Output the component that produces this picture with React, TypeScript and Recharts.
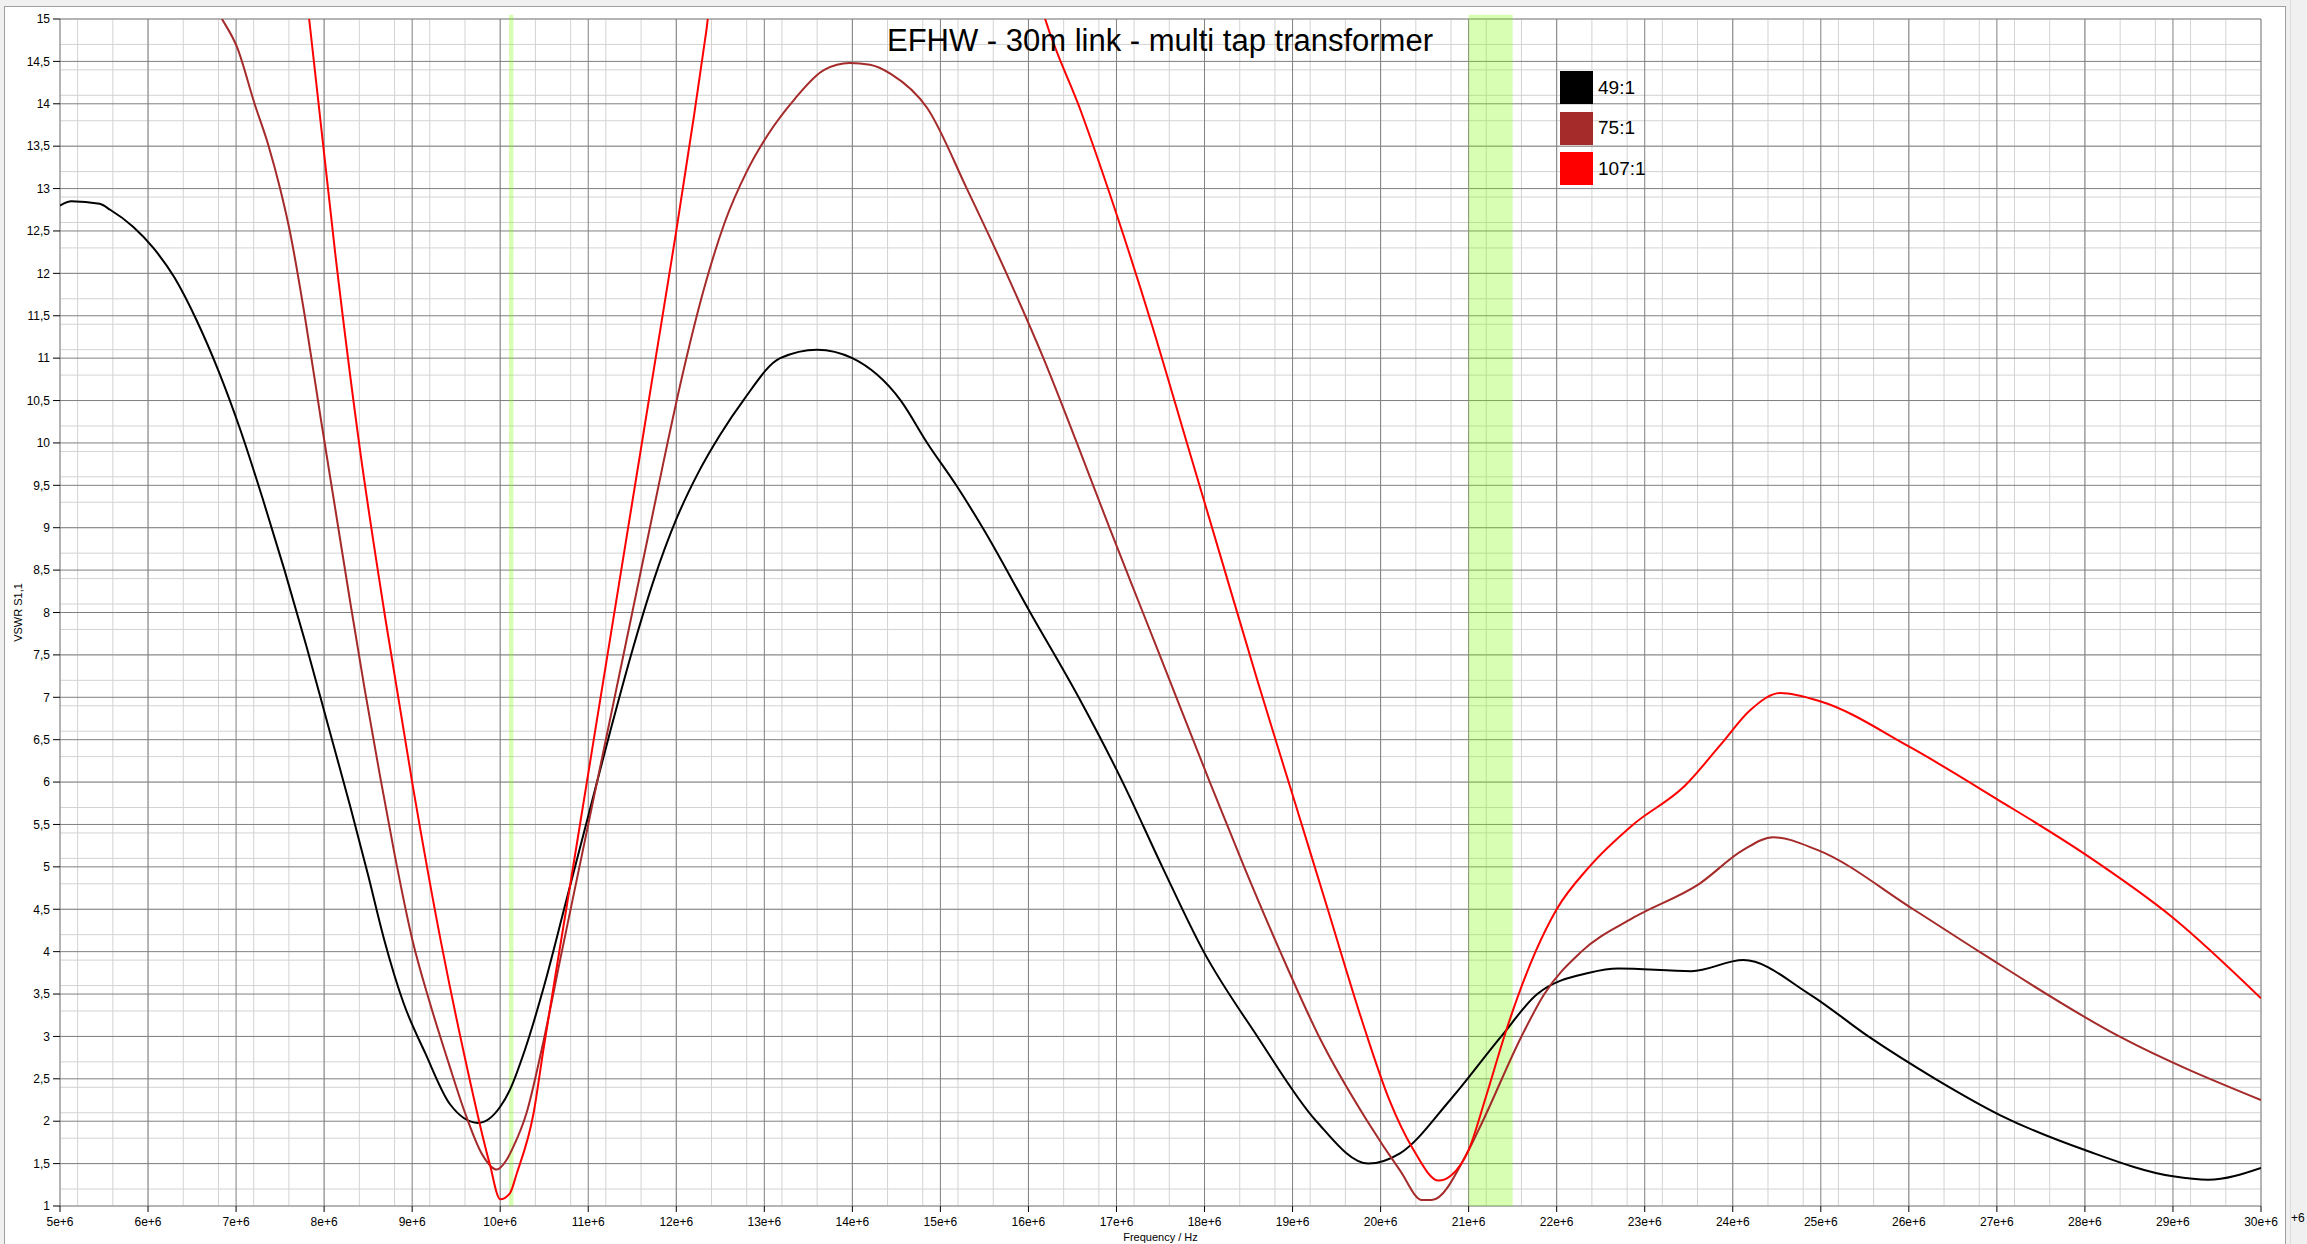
import { LineChart, Line, XAxis, YAxis, CartesianGrid, ReferenceArea } from "recharts";

// frequencies in MHz (axis shows them as "Ne+6"), VSWR values
const freq49 = [5, 5.13, 5.45, 5.57, 5.83, 6.06, 6.3, 6.55, 6.8, 7.05, 7.3, 7.55, 7.8, 8.05, 8.3, 8.5, 8.68, 8.9, 9.15, 9.43, 9.75, 10.0, 10.11, 10.28, 10.5, 10.75, 11.0, 11.25, 11.5, 11.75, 12.0, 12.25, 12.5, 12.76, 13.18, 13.6, 14.0, 14.55, 14.85, 15.18, 15.48, 16.02, 16.57, 17.07, 17.52, 17.99, 18.6, 19.27, 19.86, 20.22, 20.79, 21.37, 21.78, 22.37, 22.7, 23.53, 24.12, 24.87, 25.54, 26.3, 27.04, 28.0, 29.0, 29.4, 30];
const vswr49 = [12.8, 12.85, 12.82, 12.75, 12.55, 12.3, 11.95, 11.45, 10.85, 10.15, 9.35, 8.5, 7.6, 6.65, 5.7, 4.9, 4.15, 3.4, 2.8, 2.2, 1.98, 2.17, 2.37, 2.84, 3.6, 4.6, 5.6, 6.6, 7.55, 8.4, 9.1, 9.65, 10.1, 10.5, 11.0, 11.1, 11.0, 10.5, 10.0, 9.5, 9.0, 8.0, 7.0, 6.0, 5.0, 4.0, 3.0, 2.0, 1.5, 1.62, 2.25, 3.0, 3.5, 3.75, 3.8, 3.77, 3.9, 3.5, 3.0, 2.5, 2.07, 1.66, 1.35, 1.31, 1.45];

const freq75 = [6.6, 6.84, 7.01, 7.21, 7.37, 7.5, 7.61, 7.78, 7.96, 8.13, 8.3, 8.46, 8.63, 8.8, 9.0, 9.2, 9.41, 9.6, 9.8, 9.96, 10.07, 10.15, 10.3, 10.47, 10.7, 10.92, 11.12, 11.32, 11.5, 11.68, 11.87, 12.07, 12.31, 12.55, 12.8, 13.05, 13.34, 13.68, 13.97, 14.2, 14.44, 14.85, 15.3, 15.75, 16.17, 16.55, 16.92, 17.3, 17.68, 18.06, 18.45, 18.86, 19.3, 19.85, 20.22, 20.47, 20.58, 21.0, 21.16, 21.6, 21.86, 22.28, 22.87, 23.62, 24.12, 24.46, 24.96, 26.05, 26.8, 28.39, 30];
const vswr75 = [15.4, 15, 14.67, 14, 13.5, 13, 12.5, 11.5, 10.3, 9.2, 8.1, 7.1, 6.1, 5.15, 4.15, 3.4, 2.7, 2.1, 1.6, 1.43, 1.54, 1.7, 2.1, 2.84, 4.0, 5.1, 6.1, 7.1, 8.0, 8.9, 9.85, 10.8, 11.8, 12.6, 13.2, 13.65, 14.05, 14.4, 14.48, 14.46, 14.35, 13.95, 13.0, 12.0, 11.0, 10.0, 9.0, 8.0, 7.0, 6.0, 5.0, 4.0, 3.0, 2.0, 1.42, 1.07, 1.07, 1.66, 2.0, 3.0, 3.5, 4.0, 4.4, 4.8, 5.2, 5.35, 5.2, 4.5, 4.0, 3.0, 2.25];

const freq107 = [7.7, 7.83, 8.13, 8.41, 8.7, 9.0, 9.33, 9.58, 9.88, 10.0, 10.11, 10.19, 10.38, 10.49, 10.75, 11.0, 11.25, 11.5, 11.75, 12.0, 12.2, 12.34, 12.45, 16.0, 16.19, 16.6, 17.0, 17.4, 17.8, 18.2, 18.6, 19.0, 19.4, 19.8, 20.1, 20.37, 20.66, 20.8, 21.0, 21.2, 21.42, 21.76, 22.0, 22.37, 22.87, 23.45, 23.87, 24.2, 24.54, 25.0, 26.0, 27.0, 28.0, 29.0, 30];
const vswr107 = [16.3, 15.0, 12.2, 9.9, 7.9, 6.0, 4.1, 2.84, 1.5, 1.08, 1.15, 1.39, 2.1, 2.84, 4.5, 6.1, 7.7, 9.3, 10.9, 12.5, 13.85, 14.85, 15.7, 15.7, 15, 13.9, 12.7, 11.4, 10.0, 8.6, 7.2, 5.85, 4.5, 3.15, 2.25, 1.67, 1.3, 1.36, 1.66, 2.3, 3.05, 4.0, 4.5, 5.0, 5.5, 5.95, 6.45, 6.85, 7.05, 6.95, 6.42, 5.8, 5.15, 4.4, 3.45];

const seriesNames = ["49:1", "75:1", "107:1"];
const seriesColors = ["#000000", "#a52a2a", "#ff0000"];

// highlighted amateur bands (MHz)
const bandStarts = [10.1, 21.0];
const bandEnds = [10.15, 21.5];

const xMajor = Array.from({ length: 26 }, (_, i) => 5 + i);
const xMinor = Array.from({ length: 126 }, (_, i) => (50 + 2 * i) / 10);
const yMajor = Array.from({ length: 29 }, (_, i) => (2 + i) / 2);
const yMinor = Array.from({ length: 141 }, (_, i) => (10 + i) / 10);

const toPoints = (f: number[], v: number[]) => f.map((x, i) => ({ f: x, v: v[i] }));
const series = [toPoints(freq49, vswr49), toPoints(freq75, vswr75), toPoints(freq107, vswr107)];

const font = "'Liberation Sans', Arial, sans-serif";

export default function App() {
  return (
    <div style={{ position: "absolute", left: 0, top: 0, width: 2307, height: 1244, background: "#f0f0f0", overflow: "hidden", fontFamily: font }}>
      <div style={{ position: "absolute", left: 4, top: 6, width: 2280, height: 1260, background: "#fff", border: "1px solid #a0a0a0" }} />
      <div style={{ position: "absolute", left: 2290, top: 0, width: 1, height: 1244, background: "#dcdcdc" }} />
      <div style={{ position: "absolute", left: 0, top: 0 }}>
        <LineChart width={2307} height={1244} margin={{ top: 19, right: 46, bottom: 0, left: 10 }}>
          <XAxis xAxisId="minor" dataKey="f" type="number" domain={[5, 30]} ticks={xMinor} hide allowDataOverflow />
          <YAxis yAxisId="minor" dataKey="v" type="number" domain={[1, 15]} ticks={yMinor} hide allowDataOverflow />
          <CartesianGrid xAxisId="minor" yAxisId="minor" stroke="#d3d3d3" strokeWidth={1} />
          <CartesianGrid stroke="#808080" strokeWidth={1} />
          <XAxis
            dataKey="f"
            type="number"
            domain={[5, 30]}
            ticks={xMajor}
            allowDataOverflow
            height={38}
            axisLine={false}
            tickSize={6}
            tickMargin={5}
            tickLine={{ stroke: "#000" }}
            tick={{ fontSize: 12, fill: "#000", fontFamily: font }}
            tickFormatter={(v: number) => `${v}e+6`}
            label={{ value: "Frequency / Hz", position: "insideBottom", offset: 3, fontSize: 11, fill: "#000", fontFamily: font }}
          />
          <YAxis
            dataKey="v"
            type="number"
            domain={[1, 15]}
            ticks={yMajor}
            allowDataOverflow
            width={50}
            axisLine={false}
            tickSize={7}
            tickMargin={3}
            tickLine={{ stroke: "#000" }}
            tick={{ fontSize: 12, fill: "#000", fontFamily: font }}
            tickFormatter={(v: number) => String(v).replace(".", ",")}
            label={{ value: "VSWR S1,1", angle: -90, position: "center", dx: -17, fontSize: 11, fill: "#000", fontFamily: font }}
          />
          {series.map((pts, i) => (
            <Line
              key={seriesNames[i]}
              data={pts}
              dataKey="v"
              name={seriesNames[i]}
              type="monotone"
              stroke={seriesColors[i]}
              strokeWidth={2}
              dot={false}
              activeDot={false}
              isAnimationActive={false}
            />
          ))}
          {bandStarts.map((b, i) => (
            <ReferenceArea key={b} x1={b} x2={bandEnds[i]} y1={1} y2={15.05} ifOverflow="visible" fill="#7cfc00" fillOpacity={0.3} stroke="none" />
          ))}
        </LineChart>
      </div>
      <div style={{ position: "absolute", left: 810, top: 23, width: 700, textAlign: "center", fontSize: 31, color: "#000", lineHeight: "36px", whiteSpace: "nowrap" }}>
        EFHW - 30m link - multi tap transformer
      </div>
      <div style={{ position: "absolute", left: 1560, top: 71 }}>
        {seriesNames.map((n, i) => (
          <div key={n} style={{ display: "flex", alignItems: "center", height: 33, marginBottom: 7.5 }}>
            <div style={{ width: 33, height: 33, background: seriesColors[i] }} />
            <span style={{ marginLeft: 5, fontSize: 19, color: "#000" }}>{n}</span>
          </div>
        ))}
      </div>
      <div style={{ position: "absolute", left: 2291, top: 1211, fontSize: 12, color: "#000" }}>+6</div>
    </div>
  );
}
